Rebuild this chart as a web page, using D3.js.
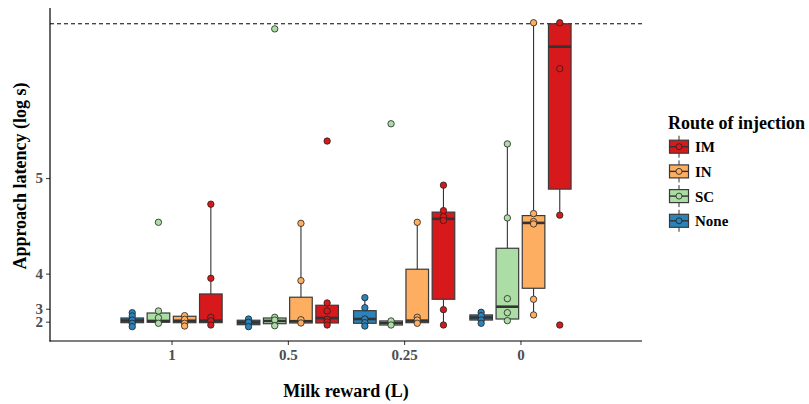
<!DOCTYPE html>
<html>
<head>
<meta charset="utf-8">
<script src="https://cdn.jsdelivr.net/npm/d3@7"></script>
<style>
  body { margin: 0; background: #fff; }
  text { font-family: "Liberation Serif", "Times New Roman", serif; font-weight: bold; }
</style>
</head>
<body>
<div id="chart"></div>
<script>
// reward levels on the x axis, injection routes dodged within each level
var rewards = ["1", "0.5", "0.25", "0"];
var routes = ["None", "SC", "IN", "IM"];
var legendOrder = ["IM", "IN", "SC", "None"];
var yTickLabels = [2, 3, 4, 5];   // log s
var cutoff = 300;                 // seconds

// box stats in seconds: reward, route, lower whisker, q1, median, q3, upper whisker
var boxStats = [
  ["1", "None", 2.5, 6.4, 8.5, 11, 16.2],
  ["1", "SC", 5.8, 6.8, 8.1, 15.9, 17.9],
  ["1", "IN", 3.1, 6.4, 8.3, 12.7, 13.3],
  ["1", "IM", 4.1, 6.4, 8.4, 34.6, 122.8],
  ["0.5", "None", 2.5, 4.4, 6.6, 8.8, 10],
  ["0.5", "SC", 3.4, 5.4, 8.1, 11, 11.7],
  ["0.5", "IN", 6.1, 6.1, 7.8, 31.4, 104],
  ["0.5", "IM", 4.1, 6.1, 11, 23.5, 25.8],
  ["0.25", "None", 3.1, 5.8, 10, 18.2, 31],
  ["0.25", "SC", 4.1, 4.1, 6.1, 8.1, 8.1],
  ["0.25", "IN", 5.8, 6.4, 8.4, 58.9, 105],
  ["0.25", "IM", 4.1, 29.4, 108.4, 115, 141.5],
  ["0", "None", 5.8, 9, 11.5, 14, 16.6],
  ["0", "SC", 8.4, 10, 22.1, 79.5, 182],
  ["0", "IN", 14, 40.2, 104.4, 111.6, 300],
  ["0", "IM", 112, 137.6, 277.5, 300, 300]
];

// individual latencies (seconds)
var points = [
  ["1", "None", [16.2, 13, 9, 5.8, 2.5]],
  ["1", "SC", [105, 17.9, 11.3, 5.8]],
  ["1", "IN", [13.3, 9.7, 5.8, 3.1]],
  ["1", "IM", [122.8, 50, 11.7, 8.1, 4.1]],
  ["0.5", "None", [10, 6.8, 2.5]],
  ["0.5", "SC", [295, 11.7, 9, 3.4]],
  ["0.5", "IN", [104, 47.7, 9.3, 6.1]],
  ["0.5", "IM", [184.8, 25.8, 17.9, 9.7, 7.1, 4.1]],
  ["0.25", "None", [31, 21.1, 10, 6.4, 3.1]],
  ["0.25", "SC", [201.8, 8.1, 4.1]],
  ["0.25", "IN", [105, 11.7, 9, 5.8]],
  ["0.25", "IM", [141.5, 116.5, 110.6, 106.7, 19.2, 4.1]],
  ["0", "None", [16.6, 13.3, 9, 5.8]],
  ["0", "SC", [182, 109.3, 30, 16.2, 8.4]],
  ["0", "IN", [301, 113.6, 105.7, 103.4, 29.4, 14]],
  ["0", "IM", [301, 255.9, 112, 4.1]]
];

var width = 809, height = 404;
var panel = {left: 50, right: 642, top: 8, bottom: 341};

var color = d3.scaleOrdinal()
  .domain(routes)
  .range(["#2b83ba", "#abdda4", "#fdae61", "#d7191c"]);

var x = d3.scalePoint()
  .domain(rewards)
  .range([panel.left, panel.right])
  .padding(1.045);

var dodge = d3.scaleBand()
  .domain(routes)
  .range([-52.4, 52.4]);

var boxW = 22.6;

var ySec = d3.scaleLinear()
  .domain([-11.6, 315.5])
  .range([panel.bottom, panel.top]);

var cx = function(reward, route) {
  return x(reward) + dodge(route) + dodge.bandwidth() / 2;
};

var svg = d3.select("#chart").append("svg")
  .attr("width", width)
  .attr("height", height);

// cutoff line
svg.append("line")
  .attr("x1", panel.left).attr("x2", panel.right)
  .attr("y1", ySec(cutoff)).attr("y2", ySec(cutoff))
  .attr("stroke", "#000")
  .attr("stroke-width", 1)
  .attr("stroke-dasharray", "4,3");

// boxes
var boxes = svg.append("g").selectAll("g")
  .data(boxStats)
  .enter().append("g");

boxes.append("line")
  .attr("x1", d => cx(d[0], d[1])).attr("x2", d => cx(d[0], d[1]))
  .attr("y1", d => ySec(d[2])).attr("y2", d => ySec(d[6]))
  .attr("stroke", "#333")
  .attr("stroke-width", 1.1);

boxes.append("rect")
  .attr("x", d => cx(d[0], d[1]) - boxW / 2)
  .attr("width", boxW)
  .attr("y", d => ySec(d[5]))
  .attr("height", d => Math.max(ySec(d[3]) - ySec(d[5]), 0.5))
  .attr("fill", d => color(d[1]))
  .attr("stroke", "#3a3a3a")
  .attr("stroke-width", 1.2);

boxes.append("line")
  .attr("x1", d => cx(d[0], d[1]) - boxW / 2)
  .attr("x2", d => cx(d[0], d[1]) + boxW / 2)
  .attr("y1", d => ySec(d[4])).attr("y2", d => ySec(d[4]))
  .attr("stroke", "#333")
  .attr("stroke-width", 2.6);

// points
var flat = [];
points.forEach(function(p) {
  p[2].forEach(function(v) { flat.push({reward: p[0], route: p[1], value: v}); });
});

svg.append("g").selectAll("circle")
  .data(flat)
  .enter().append("circle")
  .attr("cx", d => cx(d.reward, d.route))
  .attr("cy", d => ySec(d.value))
  .attr("r", 3.2)
  .attr("fill", d => color(d.route))
  .attr("stroke", "#222")
  .attr("stroke-width", 0.8);

// axes
var yAxis = d3.axisLeft(ySec)
  .tickValues(yTickLabels.map(v => Math.exp(v)))
  .tickFormat((d, i) => yTickLabels[i])
  .tickSize(4)
  .tickPadding(3);

var gy = svg.append("g")
  .attr("transform", "translate(" + panel.left + ",0)")
  .call(yAxis);

var xAxis = d3.axisBottom(x)
  .tickSize(4)
  .tickPadding(4);

var gx = svg.append("g")
  .attr("transform", "translate(0," + panel.bottom + ")")
  .call(xAxis);

[gx, gy].forEach(function(g) {
  g.attr("font-size", null).attr("font-family", null);
  g.select(".domain").remove();
  g.selectAll(".tick line").attr("stroke", "#333").attr("stroke-width", 1);
  g.selectAll(".tick text")
    .attr("fill", "#4d4d4d")
    .style("font-size", "15px")
    .style("font-family", "Liberation Serif, serif")
    .style("font-weight", "bold");
});

svg.append("line")
  .attr("x1", panel.left).attr("x2", panel.left)
  .attr("y1", panel.top).attr("y2", panel.bottom + 0.5)
  .attr("stroke", "#000").attr("stroke-width", 1.2);
svg.append("line")
  .attr("x1", panel.left - 0.5).attr("x2", panel.right)
  .attr("y1", panel.bottom).attr("y2", panel.bottom)
  .attr("stroke", "#000").attr("stroke-width", 1.2);

// axis titles
svg.append("text")
  .attr("transform", "translate(26,176) rotate(-90)")
  .attr("text-anchor", "middle")
  .style("font-size", "18px")
  .text("Approach latency (log s)");

svg.append("text")
  .attr("x", (panel.left + panel.right) / 2)
  .attr("y", 397)
  .attr("text-anchor", "middle")
  .style("font-size", "18px")
  .text("Milk reward (L)");

// legend
var legend = svg.append("g").attr("transform", "translate(668,0)");

legend.append("text")
  .attr("x", 0).attr("y", 129)
  .style("font-size", "18px")
  .text("Route of injection");

var items = legend.selectAll("g.item")
  .data(legendOrder)
  .enter().append("g")
  .attr("class", "item")
  .attr("transform", (d, i) => "translate(0," + (146.7 + i * 24.7) + ")");

items.append("line")
  .attr("x1", 11).attr("x2", 11)
  .attr("y1", -11).attr("y2", 11)
  .attr("stroke", "#333").attr("stroke-width", 1);

items.append("rect")
  .attr("x", 1.5).attr("y", -6.5)
  .attr("width", 19).attr("height", 13)
  .attr("fill", d => color(d))
  .attr("stroke", "#3a3a3a").attr("stroke-width", 1.2);

items.append("line")
  .attr("x1", 1.5).attr("x2", 20.5)
  .attr("y1", 0).attr("y2", 0)
  .attr("stroke", "#333").attr("stroke-width", 1.4);

items.append("circle")
  .attr("cx", 11).attr("cy", 0).attr("r", 3)
  .attr("fill", d => color(d))
  .attr("stroke", "#222").attr("stroke-width", 0.8);

items.append("text")
  .attr("x", 27).attr("y", 5.5)
  .style("font-size", "15px")
  .text(d => d);
</script>
</body>
</html>
